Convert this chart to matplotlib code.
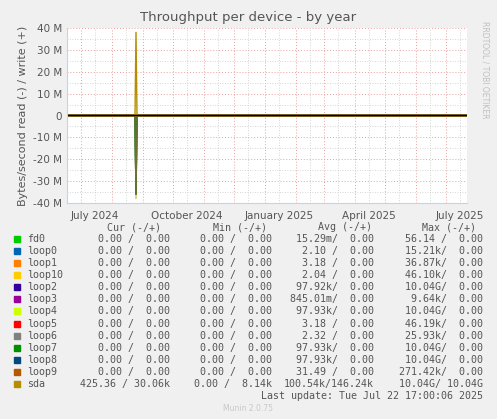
import matplotlib
matplotlib.use("Agg")
import matplotlib.pyplot as plt
import matplotlib.dates as mdates
import numpy as np
from datetime import datetime, timedelta

names = ["fd0","loop0","loop1","loop10","loop2","loop3","loop4","loop5","loop6","loop7","loop8","loop9","sda"]
colors = ["#00CC00","#0066B3","#FF8000","#FFCC00","#330099","#990099","#CCFF00","#FF0000","#808080","#008F00","#00487D","#B35A00","#B38F00"]
cur = ["0.00 /  0.00"]*12 + ["425.36 / 30.06k"]
mins = ["0.00 /  0.00"]*12 + ["0.00 /  8.14k"]
avgs = ["15.29m/  0.00","2.10 /  0.00","3.18 /  0.00","2.04 /  0.00","97.92k/  0.00","845.01m/  0.00",
        "97.93k/  0.00","3.18 /  0.00","2.32 /  0.00","97.93k/  0.00","97.93k/  0.00","31.49 /  0.00","100.54k/146.24k"]
maxs = ["56.14 /  0.00","15.21k/  0.00","36.87k/  0.00","46.10k/  0.00","10.04G/  0.00","9.64k/  0.00",
        "10.04G/  0.00","46.19k/  0.00","25.93k/  0.00","10.04G/  0.00","10.04G/  0.00","271.42k/  0.00","10.04G/ 10.04G"]

dates = [datetime(2024,6,17), datetime(2024,8,24), datetime(2024,8,25), datetime(2024,8,26), datetime(2025,7,22)]
sda_write = [0, 0, 38e6, 0, 0]
sda_read = [0, 0, 38e6, 0, 0]
spike_read = [0, 0, 36e6, 0, 0]   # loop2/4/7/8 read spikes (overlapping)
zero = [0]*5

fig = plt.figure(figsize=(4.97,4.19), dpi=100, facecolor="#F0F0F0")
W, H = 497, 419
ax = fig.add_axes([67/W, 1-203/H, 400/W, 175/H])
ax.set_facecolor("white")

for n, c in zip(names, colors):
    if n == "sda":
        continue
    if n in ("loop2","loop4","loop7","loop8"):
        ax.plot(dates, [-v for v in spike_read], color=c, lw=1)
    else:
        ax.plot(dates, zero, color=c, lw=1)
ax.plot(dates, [-v for v in sda_read], color="#B38F00", lw=1, alpha=0.6)
ax.plot(dates, sda_write, color="#B38F00", lw=1)
ax.axhline(0, color="black", lw=1)

ax.set_xlim(datetime(2024,6,17), datetime(2025,7,22))
ax.set_ylim(-40e6, 40e6)
ax.set_yticks(np.arange(-40e6, 41e6, 10e6))
ax.set_yticklabels(["-40 M","-30 M","-20 M","-10 M","0","10 M","20 M","30 M","40 M"])
ax.set_yticks(np.arange(-35e6, 40e6, 10e6), minor=True)
ax.xaxis.set_major_locator(mdates.MonthLocator())
ax.xaxis.set_minor_locator(mdates.MonthLocator(bymonthday=15))
ax.set_xticklabels([])
ax.grid(True, which="major", color="#E8A0A0", ls=(0,(1,2)), lw=0.7)
ax.grid(True, which="minor", color="#C8C8C8", ls=(0,(1,2)), lw=0.6)
for lab, d in [("July 2024",datetime(2024,7,15)),("October 2024",datetime(2024,10,15)),
               ("January 2025",datetime(2025,1,15)),("April 2025",datetime(2025,4,15)),("July 2025",datetime(2025,7,15))]:
    ax.text(d, -43.5e6, lab, ha="center", va="top", fontsize=7.5, color="#555555")
ax.tick_params(which="both", length=0, labelsize=7.5, labelcolor="#555555")
for s in ax.spines.values():
    s.set_visible(False)
ax.spines["left"].set_visible(True)
ax.spines["bottom"].set_visible(True)
ax.spines["left"].set_color("#C8D0F0")
ax.spines["bottom"].set_color("#C8D0F0")
ax.set_ylabel("Bytes/second read (-) / write (+)", fontsize=8, color="#555555", labelpad=4)

fig.text(0.5, 1-18/H, "Throughput per device - by year", ha="center", va="center", fontsize=9.5, color="#555555")
fig.text(485/W, 1-70/H, "RRDTOOL / TOBI OETIKER", rotation=270, fontsize=5.5, color="#C0C0C0", ha="center", va="center")

mono = "DejaVu Sans Mono"
fs = 7.2
tc = "#555555"
y0 = 227
for x, t in [(134,"Cur (-/+)"),(240,"Min (-/+)"),(345,"Avg (-/+)"),(449,"Max (-/+)")]:
    fig.text(x/W, 1-y0/H, t, ha="center", va="center", family=mono, fontsize=fs, color=tc)
for i, n in enumerate(names):
    y = 239.3 + i*12.03
    fig.patches.append(plt.Rectangle((14/W, 1-(y+3)/H), 6/W, 6/H, transform=fig.transFigure, color=colors[i]))
    fig.text(27/W, 1-y/H, n, ha="left", va="center", family=mono, fontsize=fs, color=tc)
    for x, col in [(170,cur),(272,mins),(374,avgs),(483,maxs)]:
        fig.text(x/W, 1-y/H, col[i], ha="right", va="center", family=mono, fontsize=fs, color=tc)
fig.text(483/W, 1-395.7/H, "Last update: Tue Jul 22 17:00:06 2025", ha="right", va="center", family=mono, fontsize=fs, color=tc)
fig.text(248/W, 1-408/H, "Munin 2.0.75", ha="center", va="center", fontsize=5.5, color="#C8C8C8")

fig.savefig("out.png", dpi=100, facecolor=fig.get_facecolor())
